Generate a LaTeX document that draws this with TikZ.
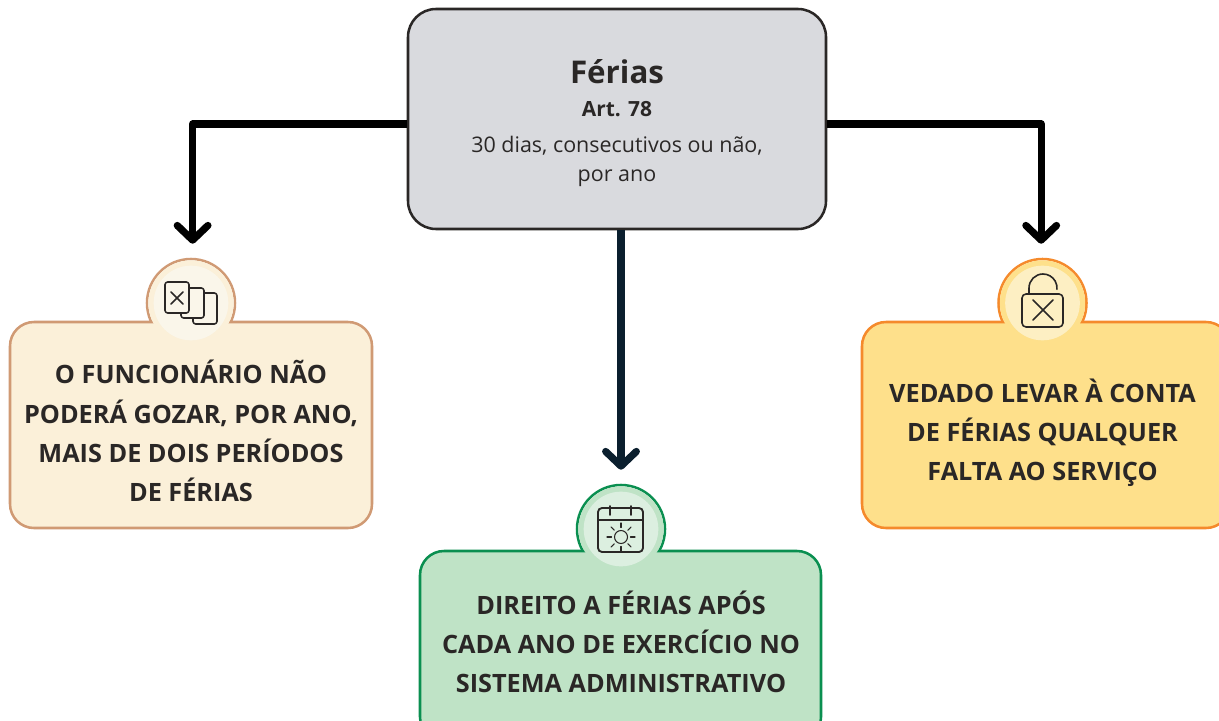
\documentclass[tikz,border=0pt]{standalone}
\usepackage{fontspec}
\setmainfont{Open Sans}
\usetikzlibrary{arrows.meta,calc}
\definecolor{topfill}{HTML}{D9DADE}
\definecolor{ink}{HTML}{2A2726}
\definecolor{navy}{HTML}{0B1F2E}
\definecolor{lstroke}{HTML}{D09A74}
\definecolor{lfill}{HTML}{FBF0D9}
\definecolor{linner}{HTML}{FAF6EA}
\definecolor{mstroke}{HTML}{0A8F50}
\definecolor{mfill}{HTML}{BFE3C6}
\definecolor{minner}{HTML}{DCEFE0}
\definecolor{rstroke}{HTML}{F58A2C}
\definecolor{rfill}{HTML}{FEE08B}
\definecolor{rinner}{HTML}{FDEFC3}
\tikzset{
  x=0.75pt,y=-0.75pt,
  box/.style={draw=#1,line width=1.9pt,rounded corners=18pt,inner sep=0pt,anchor=center},
  badge/.style={circle,draw=#1,line width=1.9pt,minimum size=66pt,inner sep=0pt},
  badgefill/.style={circle,fill=#1,minimum size=64pt,inner sep=0pt},
  inner disc/.style={circle,fill=#1,minimum size=56pt,inner sep=0pt},
  conn/.style={draw=#1,line width=5.4pt,line join=round,shorten >=10.5pt,
    -{Straight Barb[round,length=11pt,width=23pt,line width=5.4pt]}},
  label/.style={font=\fontsize{18.95}{29.4}\selectfont\bfseries,text=ink,align=center,inner sep=0pt},
  icon/.style={draw=ink,line width=1.2pt,line join=round,line cap=round},
}
\begin{document}
\begin{tikzpicture}
\useasboundingbox (0,0) rectangle (1219,720);
\clip (0,0) rectangle (1219,720);
% left
\node[badge=lstroke] (lb) at (191,303) {};
\node[box=lstroke,fill=lfill,minimum width=271.5pt,minimum height=154.5pt] (lbox) at (191,425) {};
\node[badgefill=lfill] (lbf) at (191,303) {};
\node[inner disc=linner] (lbi) at (191,303) {};
% mid
\node[badge=mstroke] (mb) at (621,529) {};
\node[box=mstroke,fill=mfill,minimum width=300.75pt,minimum height=142.5pt] (mbox) at (620.5,646) {};
\node[badgefill=mfill] (mbf) at (621,529) {};
\node[inner disc=minner] (mbi) at (621,529) {};
% right
\node[badge=rstroke] (rb) at (1042.5,303) {};
\node[box=rstroke,fill=rfill,minimum width=276pt,minimum height=154.5pt] (rbox) at (1046,425) {};
\node[badgefill=rfill] (rbf) at (1042.5,303) {};
\node[inner disc=rinner] (rbi) at (1042.5,303) {};
% top
\node[box=ink,fill=topfill,minimum width=313.5pt,minimum height=165pt,rounded corners=21pt] (top) at (617,119) {};
% connectors
\draw[conn=black] ([yshift=-3.75pt]top.west) -| ([xshift=1.2pt]lb.north);
\draw[conn=black] ([yshift=-3.75pt]top.east) -| ([xshift=-1pt]rb.north);
\draw[conn=navy] (mb.north |- top.south) -- (mb.north);
% top text
\node[font=\fontsize{23.5}{28}\selectfont\bfseries,text=ink,inner sep=0pt] (t1) at (617,72) {Férias};
\node[font=\fontsize{15.7}{20}\selectfont\bfseries,text=ink,inner sep=0pt] (t2) at (617,109) {Art. 78};
\node[font=\fontsize{16.1}{21.8}\selectfont,text=ink,align=center,inner sep=0pt] (t3) at (617,161.5) {30 dias, consecutivos ou não,\\por ano};
% box text
\node[label] (lt) at (191,431) {O FUNCIONÁRIO NÃO\\PODERÁ GOZAR, POR ANO,\\MAIS DE DOIS PERÍODOS\\DE FÉRIAS};
\node[label] (mt) at (621,642) {DIREITO A FÉRIAS APÓS\\CADA ANO DE EXERCÍCIO NO\\SISTEMA ADMINISTRATIVO};
\node[label] (rt) at (1042.5,433) {VEDADO LEVAR À CONTA\\DE FÉRIAS QUALQUER\\FALTA AO SERVIÇO};
% left icon
\draw[icon,fill=linner,rounded corners=2pt] (193,293) rectangle (217,324);
\draw[icon,fill=linner,rounded corners=2pt] (181,288) rectangle (204,318);
\draw[icon,fill=linner,rounded corners=2pt] (165,282) rectangle (189,313);
\draw[icon] (171,292) -- (183,304) (183,292) -- (171,304);
% mid icon
\draw[icon,line width=1.4pt,rounded corners=3pt] (598,508) rectangle (643,552);
\draw[icon,line width=1.9pt,line cap=butt] (598,520) -- (643,520);
\draw[icon,line width=1.4pt] (610,506) -- (610,515) (631,506) -- (631,515);
\draw[icon,line width=.8pt] (621,537) circle[radius=6.5];
\foreach \a in {0,45,...,315}
  \draw[icon,line width=.8pt] ($(621,537)+(\a:9.5)$) -- ($(621,537)+(\a:14)$);
% right icon
\draw[icon,rounded corners=3pt] (1022,294) rectangle (1063,327);
\draw[icon] (1029,294) -- (1029,288) arc[start angle=180,end angle=365,radius=14];
\draw[icon] (1033,300) -- (1053,320) (1053,300) -- (1033,320);
\end{tikzpicture}
\end{document}
